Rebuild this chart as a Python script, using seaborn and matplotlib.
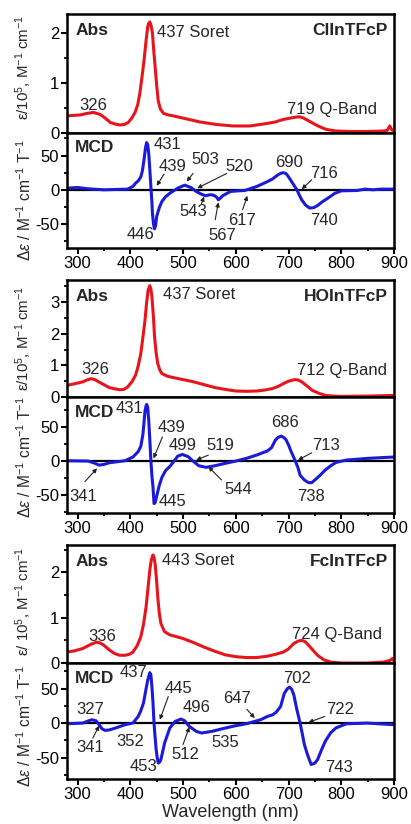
import numpy as np
import pandas as pd
import matplotlib
matplotlib.use("Agg")
import matplotlib.pyplot as plt
from matplotlib.ticker import MultipleLocator
import seaborn as sns

# ---------------- data ----------------
# Panel 1: ClInTFcP
abs_wl_cl = [280, 305, 318, 330, 343, 352, 362, 371, 380, 389, 396, 403, 409, 414, 418, 422, 426, 430, 433, 435, 437,
             439, 442, 444, 447, 450, 453, 457, 463, 472, 482, 507, 532, 563, 595, 627, 659, 675, 690, 705, 716, 722,
             728, 737, 747, 760, 772, 790, 817, 850, 880, 887, 892, 896, 900]
abs_cl = [0.34, 0.36, 0.39, 0.41, 0.37, 0.30, 0.21, 0.18, 0.16, 0.17, 0.21, 0.30, 0.41, 0.56, 0.78, 1.10, 1.44, 1.85,
          2.11, 2.19, 2.21, 2.16, 2.00, 1.70, 1.33, 0.95, 0.64, 0.48, 0.39, 0.36, 0.34, 0.28, 0.22, 0.17, 0.14, 0.14,
          0.19, 0.22, 0.27, 0.30, 0.32, 0.32, 0.30, 0.25, 0.19, 0.12, 0.07, 0.04, 0.03, 0.03, 0.04, 0.05, 0.14, 0.06,
          0.05]
mcd_wl_cl = [280, 300, 320, 350, 395, 405, 410, 415, 420, 423, 426, 429, 431, 433, 435, 437, 439, 441, 442, 444, 446,
             448, 450, 455, 460, 467, 475, 490, 503, 515, 525, 535, 543, 550, 555, 560, 564, 567, 571, 575, 590, 605,
             617, 640, 660, 670, 680, 685, 690, 695, 700, 705, 710, 716, 720, 725, 732, 740, 748, 755, 765, 775, 788,
             800, 830, 845, 860, 875, 900]
mcd_cl = [2.4, 3.4, 1.5, 0.0, 1.0, 5.0, 9.7, 13.0, 19.0, 28.0, 44.0, 62.0, 69.0, 66.0, 53.0, 30.0, 5.0, -18.0, -34.0,
          -50.0, -57.0, -52.0, -39.0, -26.0, -17.0, -10.0, -5.0, 2.4, 6.8, 3.4, -2.4, -6.5, -8.7, -7.3, -7.3, -8.7,
          -11.0, -14.6, -12.0, -8.7, -2.4, -1.5, -1.0, 4.9, 12.0, 16.0, 22.0, 24.0, 25.0, 24.0, 19.0, 13.0, 7.0, 0.0,
          -7.0, -14.6, -22.0, -26.7, -26.0, -23.0, -17.0, -12.0, -5.0, -1.5, -1.0, 1.0, 0.0, 1.0, 1.0]

# Panel 2: HOInTFcP
abs_wl_ho = [280, 295, 310, 318, 326, 333, 340, 350, 360, 370, 380, 388, 395, 403, 410, 415, 420, 424, 428, 431, 434,
             437, 439, 441, 444, 446, 449, 452, 456, 460, 470, 480, 500, 520, 540, 560, 580, 600, 620, 640, 655, 670,
             680, 690, 700, 712, 718, 725, 735, 745, 757, 770, 785, 800, 850, 900]
abs_ho = [0.37, 0.42, 0.48, 0.54, 0.58, 0.55, 0.48, 0.39, 0.30, 0.26, 0.23, 0.24, 0.32, 0.48, 0.69, 0.98, 1.38, 1.90,
          2.44, 3.00, 3.39, 3.52, 3.42, 3.18, 2.50, 1.90, 1.40, 1.06, 0.85, 0.74, 0.66, 0.62, 0.55, 0.48, 0.39, 0.30,
          0.24, 0.19, 0.18, 0.19, 0.22, 0.27, 0.33, 0.42, 0.50, 0.55, 0.54, 0.48, 0.35, 0.21, 0.12, 0.05, 0.03, 0.02,
          0.03, 0.05]
mcd_wl_ho = [280, 320, 332, 341, 350, 360, 375, 390, 405, 415, 420, 424, 428, 430, 431, 433, 435, 437, 439, 441, 443,
             445, 447, 450, 455, 460, 467, 475, 483, 490, 499, 510, 519, 530, 544, 560, 580, 600, 620, 640, 660, 668,
             675, 680, 686, 691, 695, 700, 705, 713, 718, 722, 730, 738, 744, 750, 760, 770, 780, 790, 810, 850, 900]
mcd_ho = [0.5, 0.0, -3.0, -6.0, -5.0, -2.5, -1.0, 0.5, 6.0, 14.0, 22.0, 40.0, 75.0, 82.0, 84.0, 80.0, 60.0, 32.0, 1.5,
          -22.0, -38.0, -63.0, -62.0, -52.0, -36.0, -24.0, -14.0, -8.0, 0.0, 7.4, 9.8, 6.4, 0.0, -7.0, -9.3, -7.0,
          -3.4, 0.0, 4.0, 9.0, 15.0, 20.0, 31.0, 35.0, 37.0, 35.0, 32.0, 24.0, 14.0, 0.0, -10.0, -21.0, -28.0, -32.0,
          -32.0, -28.0, -21.0, -13.0, -7.0, -2.0, 1.5, 4.0, 6.0]

# Panel 3: FcInTFcP
abs_wl_fc = [280, 295, 310, 325, 336, 343, 350, 360, 370, 380, 390, 398, 405, 413, 420, 425, 430, 434, 437, 440, 443,
             445, 447, 450, 452, 455, 458, 465, 475, 500, 520, 540, 560, 580, 600, 620, 640, 660, 675, 690, 700, 710,
             718, 724, 730, 735, 745, 755, 767, 780, 800, 820, 850, 880, 893, 897, 900]
abs_fc = [0.24, 0.27, 0.32, 0.41, 0.46, 0.44, 0.39, 0.29, 0.21, 0.17, 0.17, 0.19, 0.24, 0.38, 0.58, 0.85, 1.24, 1.70,
          2.05, 2.28, 2.38, 2.33, 2.19, 1.80, 1.46, 1.10, 0.87, 0.69, 0.62, 0.54, 0.45, 0.35, 0.26, 0.18, 0.14, 0.12,
          0.12, 0.15, 0.19, 0.24, 0.31, 0.43, 0.48, 0.50, 0.48, 0.43, 0.30, 0.17, 0.07, 0.02, 0.00, 0.00, 0.00, 0.02,
          0.06, 0.10, 0.04]
mcd_wl_fc = [280, 310, 320, 327, 335, 341, 346, 352, 360, 370, 390, 405, 415, 420, 425, 430, 433, 437, 439, 441, 443,
             445, 447, 449, 451, 453, 456, 458, 465, 475, 485, 496, 503, 512, 525, 535, 555, 580, 600, 620, 647, 660,
             670, 677, 685, 692, 698, 702, 706, 710, 716, 722, 726, 730, 737, 743, 750, 755, 763, 770, 780, 790, 810,
             850, 900]
mcd_fc = [-1.0, 0.0, 3.0, 4.8, 3.4, -2.4, -8.0, -10.6, -10.0, -7.7, -2.4, 0.0, 9.6, 18.0, 29.0, 50.0, 62.0, 73.0,
          70.0, 53.0, 30.0, 0.0, -20.0, -38.0, -50.0, -58.0, -56.0, -53.0, -29.0, -7.0, 2.4, 5.8, 3.4, -4.8, -12.0,
          -14.4, -12.0, -7.2, -3.8, -1.0, 4.8, 9.6, 12.0, 16.0, 24.0, 43.0, 50.0, 52.0, 49.0, 41.0, 19.0, 0.0, -15.0,
          -31.0, -48.0, -60.0, -58.0, -53.0, -38.0, -26.0, -14.0, -7.0, -1.0, 0.0, -2.4]

compounds = ["ClInTFcP", "HOInTFcP", "FcInTFcP"]
abs_ylims = [(0, 2.37), (0, 3.7), (0, 2.6)]
mcd_ylims = [(-85, 83), (-77, 95), (-81, 87)]
x_ticks = [300, 400, 500, 600, 700, 800, 900]

RED = "#e8141c"
BLUE = "#1a1ad8"

# ---------------- style ----------------
sns.set_style("ticks")
plt.rcParams["font.family"] = ["Liberation Sans", "DejaVu Sans"]
plt.rcParams["mathtext.fontset"] = "custom"
plt.rcParams["mathtext.rm"] = "Liberation Sans"
plt.rcParams["mathtext.it"] = "Liberation Sans:italic"
plt.rcParams["mathtext.bf"] = "Liberation Sans:bold"
plt.rcParams["axes.unicode_minus"] = False

fig = plt.figure(figsize=(4.11, 8.24), dpi=100)

L, W = 67 / 411, 327 / 411
H = 824.0
# (top, bottom) pixel rows of each axes
abs_rows = [(14, 133), (280, 397), (545, 663)]
mcd_rows = [(133, 248), (397, 513), (663, 779)]

abs_data = [(abs_wl_cl, abs_cl), (abs_wl_ho, abs_ho), (abs_wl_fc, abs_fc)]
mcd_data = [(mcd_wl_cl, mcd_cl), (mcd_wl_ho, mcd_ho), (mcd_wl_fc, mcd_fc)]

abs_labels = [r"ε/10$^{5}$, M$^{-1}$ cm$^{-1}$", r"ε/10$^{5}$, M$^{-1}$ cm$^{-1}$",
              r"ε/ 10$^{5}$, M$^{-1}$ cm$^{-1}$"]
mcd_label = r"$\Delta\varepsilon$ / M$^{-1}$ cm$^{-1}$ T$^{-1}$"
abs_label_y = [0.55, 0.5, 0.52]
mcd_label_y = [0.42, 0.48, 0.46]

FS = 12
TFS = 12

# annotations: (text, x, y) and arrows (x_from, y_from, x_to, y_to)
abs_ann = [
    [("326", 330, 0.54), ("719 Q-Band", 782, 0.475)],
    [("326", 333, 0.87), ("712 Q-Band", 802, 0.85)],
    [("336", 346, 0.59), ("724 Q-Band", 791, 0.63)],
]
soret = [("437 Soret", 450, 2.0), ("437 Soret", 462, 3.23), ("443 Soret", 460, 2.26)]

mcd_ann = [
    [("431", 470, 65.5), ("439", 481, 34), ("503", 543, 43.7), ("520", 606, 34), ("543", 519, -31.5),
     ("567", 574, -67), ("617", 612, -44.7), ("690", 701, 40.3), ("716", 767, 23.3), ("740", 767, -44.7),
     ("446", 420, -65.5)],
    [("431", 398, 77.4), ("439", 478, 49.5), ("499", 500, 23.5), ("519", 570, 23.5), ("544", 605, -42.6),
     ("686", 693, 57.8), ("713", 772, 23.5), ("738", 742, -52.4), ("445", 480, -59.8), ("341", 311, -52.4)],
    [("437", 406, 73), ("445", 491, 50.5), ("496", 526, 23), ("512", 504, -45.7), ("535", 580, -28),
     ("647", 602, 36), ("702", 717, 65), ("722", 798, 20), ("743", 796, -65), ("453", 425, -62.5),
     ("327", 324, 19.2), ("341", 324, -36), ("352", 399, -26.5)],
]
mcd_arrows = [
    [(464, 23, 450, 5.8), (519, 24, 507, 12), (583, 24, 527, 2.4), (535, -20, 540, -10),
     (561, -43.7, 567, -18.4), (613, -29, 622, -8.7), (744, 14.6, 725, 1)],
    [(461, 35.8, 444, 3.9), (548, 8.8, 525, 1.5), (573, -28, 548, -8.3), (744, 12.3, 718, 1.5),
     (314, -30.4, 337, -10.8)],
    [(472, 38.5, 456, 4.8), (500, -31, 512, -5.8), (621, 20, 636, 7.2), (769, 9.6, 738, 1),
     (329, -21.6, 341, -3.8)],
]


def style_axes(ax):
    for s in ax.spines.values():
        s.set_linewidth(1.8)
        s.set_color("black")
    ax.tick_params(which="major", direction="out", length=4, width=1.5, labelsize=TFS, pad=1.5, colors="black")
    ax.tick_params(which="minor", direction="out", length=2.5, width=1.3, colors="black")
    ax.set_xlim(280, 900)


for i in range(3):
    t, b = abs_rows[i]
    ax_a = fig.add_axes([L, 1 - b / H, W, (b - t) / H])
    t, b = mcd_rows[i]
    ax_m = fig.add_axes([L, 1 - b / H, W, (b - t) / H])

    # Absorption
    wl, val = abs_data[i]
    sns.lineplot(x=np.array(wl), y=np.array(val), ax=ax_a, color=RED, lw=2.2, sort=False)
    style_axes(ax_a)
    ax_a.set_ylim(*abs_ylims[i])
    ax_a.yaxis.set_major_locator(MultipleLocator(1))
    ax_a.yaxis.set_minor_locator(MultipleLocator(0.5))
    ax_a.set_xticks([])
    ax_a.set_xlabel("")
    ax_a.set_ylabel(abs_labels[i], fontsize=10.8)
    ax_a.yaxis.set_label_coords(-0.10, abs_label_y[i])
    ax_a.text(0.025, 0.86, "Abs", transform=ax_a.transAxes, fontsize=12.5, fontweight="bold",
              ha="left", va="center")
    ax_a.text(0.982, 0.86, compounds[i], transform=ax_a.transAxes, fontsize=12.5, fontweight="bold",
              ha="right", va="center")
    s, sx, sy = soret[i]
    ax_a.text(sx, sy, s, fontsize=FS, ha="left", va="center")
    for txt, tx, ty in abs_ann[i]:
        ax_a.text(tx, ty, txt, fontsize=FS, ha="center", va="center")

    # MCD
    wl, val = mcd_data[i]
    ax_m.axhline(0, color="black", lw=1.6, zorder=1)
    sns.lineplot(x=np.array(wl), y=np.array(val), ax=ax_m, color=BLUE, lw=2.2, sort=False, zorder=2)
    style_axes(ax_m)
    ax_m.set_ylim(*mcd_ylims[i])
    ax_m.set_yticks([-50, 0, 50])
    ax_m.set_yticklabels(["-50", "0", "50"])
    ax_m.yaxis.set_minor_locator(MultipleLocator(25))
    ax_m.set_xticks(x_ticks)
    ax_m.xaxis.set_minor_locator(MultipleLocator(50))
    ax_m.set_ylabel(mcd_label, fontsize=11.2)
    ax_m.yaxis.set_label_coords(-0.10, mcd_label_y[i])
    ax_m.text(0.025, 0.87, "MCD", transform=ax_m.transAxes, fontsize=12.5, fontweight="bold",
              ha="left", va="center")
    for txt, tx, ty in mcd_ann[i]:
        ax_m.text(tx, ty, txt, fontsize=FS, ha="center", va="center", clip_on=False)
    for x0, y0, x1, y1 in mcd_arrows[i]:
        ax_m.annotate("", xy=(x1, y1), xytext=(x0, y0),
                      arrowprops=dict(arrowstyle="-|>", color="#222222", lw=0.8, mutation_scale=6,
                                      shrinkA=0, shrinkB=0), annotation_clip=False)
    if i == 2:
        ax_m.set_xlabel("Wavelength (nm)", fontsize=13, labelpad=2)
    else:
        ax_m.set_xlabel("")

fig.savefig("out.png", dpi=100)
